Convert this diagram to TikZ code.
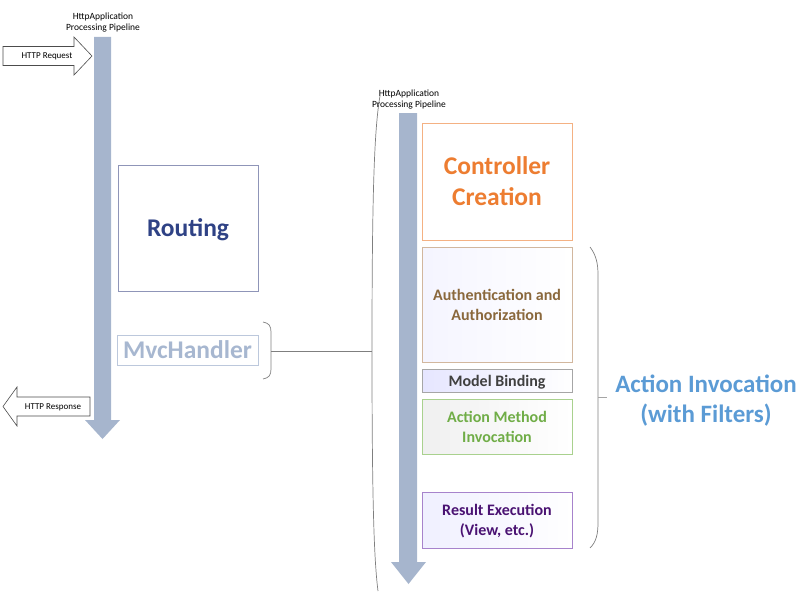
\documentclass[tikz,border=0pt]{standalone}
\usepackage{fontspec}
\setmainfont{Carlito}
\definecolor{pipe}{HTML}{A6B5CD}
\definecolor{routb}{HTML}{8F95B8}
\definecolor{routt}{HTML}{2F4285}
\definecolor{mvcb}{HTML}{BCC8DC}
\definecolor{mvct}{HTML}{A7B7D0}
\definecolor{ctrlb}{HTML}{F4B183}
\definecolor{ctrlt}{HTML}{ED7D31}
\definecolor{authb}{HTML}{D2B79E}
\definecolor{autht}{HTML}{8A683C}
\definecolor{modb}{HTML}{A6A6A6}
\definecolor{modt}{HTML}{404040}
\definecolor{actb}{HTML}{A9D18E}
\definecolor{actt}{HTML}{70AD47}
\definecolor{resb}{HTML}{A783CC}
\definecolor{rest}{HTML}{4A1272}
\definecolor{invt}{HTML}{5B9BD5}
\definecolor{brc}{HTML}{7F7F7F}
\begin{document}
\begin{tikzpicture}[x=1pt,y=-1pt,
  stagebox/.style={draw, line width=0.8pt, inner sep=0pt, align=center, text depth=0pt, font=\bfseries\fontsize{16}{20}\selectfont},
  bigbox/.style={draw, line width=0.8pt, inner sep=0pt, align=center, text depth=0pt, font=\bfseries\fontsize{25.5}{31}\selectfont},
  small/.style={align=center, inner sep=0pt, font=\fontsize{9.5}{11}\selectfont},
  brace/.style={draw=brc, line width=0.7pt},
  blockarrow/.style={draw=black!70, line width=0.6pt, fill=white}]
\useasboundingbox (0,0) rectangle (805,594);

% left pipeline
\fill[pipe] (94,37) -- (111,37) -- (111,420) -- (120,420) -- (102.5,439) -- (85,420) -- (94,420) -- cycle;
\node[small] (lbl1) at (103,22.5) {HttpApplication\\Processing Pipeline};

% HTTP request / response arrows
\draw[blockarrow] (3,46.5) -- (74,46.5) -- (74,37) -- (92,56) -- (74,75) -- (74,65.5) -- (3,65.5) -- cycle;
\node[small, font=\fontsize{9}{11}\selectfont] (req) at (47,56.5) {HTTP Request};
\draw[blockarrow] (90,397) -- (17,397) -- (17,387) -- (3,406.5) -- (17,426) -- (17,416) -- (90,416) -- cycle;
\node[small, font=\fontsize{9}{11}\selectfont] (resp) at (53,407) {HTTP Response};

% routing and mvchandler
\node[bigbox, draw=routb, text=routt, minimum width=140pt, minimum height=126pt] (routing) at (188,228) {Routing};
\node[bigbox, draw=mvcb, text=mvct, minimum width=141pt, minimum height=30pt] (mvc) at (187.5,350) {MvcHandler};

% brace right of mvchandler
\draw[brace] (263,322) .. controls (269,323) and (271,326) .. (271,332) -- (271,369) .. controls (271,375) and (269,378) .. (263,379);
\coordinate (mvctick) at (271,351);
\coordinate (parmid) at (372,351);
\draw[brace] (mvctick) -- (parmid);

% big parenthesis around right pipeline
\draw[brace] (380,96) .. controls (374,130) and (372,200) .. (parmid) .. controls (372,500) and (374,560) .. (378,591);

% right pipeline
\fill[pipe] (399,113) -- (417,113) -- (417,562) -- (426,562) -- (408.5,584) -- (391,562) -- (399,562) -- cycle;
\node[small] (lbl2) at (409,100) {HttpApplication\\Processing Pipeline};

% stages
\node[bigbox, draw=ctrlb, text=ctrlt, fill=white, minimum width=150pt, minimum height=117pt] (ctrl) at (497,181.5) {Controller\\Creation};
\node[stagebox, draw=authb, text=autht, left color=blue!4, right color=white, minimum width=150pt, minimum height=115pt] (auth) at (497,304.5) {Authentication and\\Authorization};
\node[stagebox, draw=modb, text=modt, left color=blue!10, right color=white, minimum width=150pt, minimum height=23pt] (model) at (497,380.5) {Model Binding};
\node[stagebox, draw=actb, text=actt, left color=black!6, right color=white, minimum width=150pt, minimum height=55pt] (action) at (497,426.5) {Action Method\\Invocation};
\node[stagebox, draw=resb, text=rest, left color=blue!6, right color=white, minimum width=150pt, minimum height=56pt] (result) at (497,520) {Result Execution\\(View, etc.)};

% right brace
\draw[brace] (590,247) .. controls (596,255) and (598,263) .. (598,275) -- (598,522) .. controls (598,535) and (596,542) .. (590,548);
\coordinate (rbtick) at (598,397);
\node[bigbox, draw=none, text=invt, font=\bfseries\fontsize{25}{29.5}\selectfont] (inv) at (706,398.5) {Action Invocation\\(with Filters)};
\draw[brace, draw=brc!70] (rbtick) -- (607,397);
\end{tikzpicture}
\end{document}
